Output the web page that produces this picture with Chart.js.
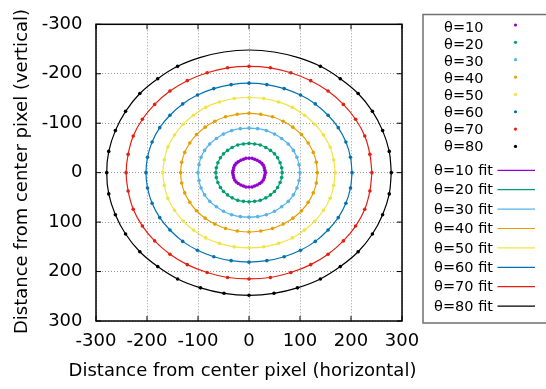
<!DOCTYPE html>
<html>
<head>
<meta charset="utf-8" />
<style>
  body { margin: 0; background: #ffffff; overflow: hidden; }
  #wrap { width: 546px; height: 389px; }
</style>
</head>
<body>
<div id="wrap"><canvas id="chart"></canvas></div>
<script src="https://cdn.jsdelivr.net/npm/chart.js"></script>
<script>
// ring points, one every 10 deg (0 deg = right, then going down)
var x10 = [32,31,30,28,25,21,16,11,6,0,-6,-11,-16,-21,-25,-28,-30,-31,-32,-31,-30,-28,-25,-21,-16,-11,-6,0,6,11,16,21,25,28,30,31];
var y10 = [0,5,10,15,19,22,25,27,29,29,29,27,25,22,19,15,10,5,0,-5,-10,-15,-19,-22,-25,-27,-29,-29,-29,-27,-25,-22,-19,-15,-10,-5];
var x20 = [65,64,61,56,50,42,33,22,11,0,-11,-22,-33,-42,-50,-56,-61,-64,-65,-64,-61,-56,-50,-42,-33,-22,-11,0,11,22,33,42,50,56,61,64];
var y20 = [0,10,20,30,38,45,51,56,58,59,58,56,51,45,38,30,20,10,0,-10,-20,-30,-38,-45,-51,-56,-58,-59,-58,-56,-51,-45,-38,-30,-20,-10];
var x30 = [100,98,94,87,77,64,50,34,17,0,-17,-34,-50,-64,-77,-87,-94,-98,-100,-98,-94,-87,-77,-64,-50,-34,-17,0,17,34,50,64,77,87,94,98];
var y30 = [0,16,31,45,58,69,78,85,89,90,89,85,78,69,58,45,31,16,0,-16,-31,-45,-58,-69,-78,-85,-89,-90,-89,-85,-78,-69,-58,-45,-31,-16];
var x40 = [134,132,126,116,103,86,67,46,23,0,-23,-46,-67,-86,-103,-116,-126,-132,-134,-132,-126,-116,-103,-86,-67,-46,-23,0,23,46,67,86,103,116,126,132];
var y40 = [0,21,41,60,77,92,104,113,118,120,118,113,104,92,77,60,41,21,0,-21,-41,-60,-77,-92,-104,-113,-118,-120,-118,-113,-104,-92,-77,-60,-41,-21];
var x50 = [169,166,159,146,129,109,85,58,29,0,-29,-58,-85,-109,-129,-146,-159,-166,-169,-166,-159,-146,-129,-109,-85,-58,-29,0,29,58,85,109,129,146,159,166];
var y50 = [0,26,52,76,98,116,132,143,150,152,150,143,132,116,98,76,52,26,0,-26,-52,-76,-98,-116,-132,-143,-150,-152,-150,-143,-132,-116,-98,-76,-52,-26];
var x60 = [202,199,190,175,155,130,101,69,35,0,-35,-69,-101,-130,-155,-175,-190,-199,-202,-199,-190,-175,-155,-130,-101,-69,-35,0,35,69,101,130,155,175,190,199];
var y60 = [0,31,62,91,116,139,157,170,178,181,178,170,157,139,116,91,62,31,0,-31,-62,-91,-116,-139,-157,-170,-178,-181,-178,-170,-157,-139,-116,-91,-62,-31];
var x70 = [241,237,227,209,185,155,121,82,42,0,-42,-82,-121,-155,-185,-209,-227,-237,-241,-237,-227,-209,-185,-155,-121,-82,-42,0,42,82,121,155,185,209,227,237];
var y70 = [0,37,74,108,138,165,186,202,212,215,212,202,186,165,138,108,74,37,0,-37,-74,-108,-138,-165,-186,-202,-212,-215,-212,-202,-186,-165,-138,-108,-74,-37];
var x80 = [279,275,262,242,214,179,140,95,49,0,-49,-95,-140,-179,-214,-242,-262,-275,-279,-275,-262,-242,-214,-179,-140,-95,-49,0,49,95,140,179,214,242,262,275];
var y80 = [0,43,85,124,160,190,215,233,244,248,244,233,215,190,160,124,85,43,0,-43,-85,-124,-160,-190,-215,-233,-244,-248,-244,-233,-215,-190,-160,-124,-85,-43];

var thetas = [10, 20, 30, 40, 50, 60, 70, 80];
var colors = ['#9400d3', '#009e73', '#56b4e9', '#e69f00', '#f0e442', '#0072b2', '#e51e10', '#000000'];
var ringX = [x10, x20, x30, x40, x50, x60, x70, x80];
var ringY = [y10, y20, y30, y40, y50, y60, y70, y80];
// the theta=80 ring has no measured dots at the top (250..290 deg)
var missing = [[], [], [], [], [], [], [], [25, 26, 27, 28, 29]];
var tickVals = [-300, -200, -100, 0, 100, 200, 300];
var xTitle = 'Distance from center pixel (horizontal)';
var yTitle = 'Distance from center pixel (vertical)';

var FONT = '"DejaVu Sans", sans-serif';
Chart.defaults.font.family = FONT;
Chart.defaults.color = '#000000';

var datasets = [];
thetas.forEach(function (t, i) {
    var pts = [];
    ringX[i].forEach(function (x, j) {
        if (missing[i].indexOf(j) < 0) pts.push({ x: x, y: ringY[i][j] });
    });
    datasets.push({
        label: '\u03b8=' + t,
        data: pts,
        showLine: false,
        pointRadius: 1.8,
        pointBorderWidth: 0,
        pointBackgroundColor: colors[i],
        borderColor: colors[i]
    });
});
thetas.forEach(function (t, i) {
    var loop = ringX[i].map(function (x, j) { return { x: x, y: ringY[i][j] }; });
    loop.push(loop[0]);
    datasets.push({
        label: '\u03b8=' + t + ' fit',
        data: loop,
        showLine: true,
        pointRadius: 0,
        borderWidth: 1.2,
        borderColor: colors[i],
        tension: 0.4
    });
});

// border, inward ticks, axis titles and the gnuplot style key
var framePlugin = {
    id: 'frame',
    beforeDatasetsDraw: function (chart) {
        var ctx = chart.ctx, a = chart.chartArea;
        var sx = chart.scales.x, sy = chart.scales.y;
        ctx.save();
        ctx.strokeStyle = '#000';
        ctx.lineWidth = 1;
        tickVals.forEach(function (v) {
            var px = sx.getPixelForValue(v), py = sy.getPixelForValue(v);
            ctx.beginPath();
            ctx.moveTo(px, a.bottom); ctx.lineTo(px, a.bottom - 5);
            ctx.moveTo(px, a.top); ctx.lineTo(px, a.top + 5);
            ctx.moveTo(a.left, py); ctx.lineTo(a.left + 5, py);
            ctx.moveTo(a.right, py); ctx.lineTo(a.right - 5, py);
            ctx.stroke();
        });
        ctx.lineWidth = 1.5;
        ctx.strokeRect(a.left, a.top, a.right - a.left, a.bottom - a.top);
        ctx.restore();
    },
    afterDraw: function (chart) {
        var ctx = chart.ctx;
        ctx.save();
        ctx.fillStyle = '#000';
        ctx.font = '18px ' + FONT;
        ctx.textAlign = 'center';
        ctx.textBaseline = 'middle';
        ctx.fillText(xTitle, 242.5, 371);
        ctx.translate(22, 171.5);
        ctx.rotate(-Math.PI / 2);
        ctx.fillText(yTitle, 0, 0);
        ctx.restore();

        // key box, its right side runs past the edge of the picture
        ctx.save();
        ctx.strokeStyle = '#707070';
        ctx.lineWidth = 1.5;
        ctx.beginPath();
        ctx.moveTo(600, 14.5);
        ctx.lineTo(423, 14.5);
        ctx.lineTo(423, 323);
        ctx.lineTo(600, 323);
        ctx.stroke();
        ctx.font = '14.5px ' + FONT;
        ctx.textAlign = 'right';
        ctx.textBaseline = 'middle';
        var n = thetas.length;
        chart.data.datasets.forEach(function (ds, i) {
            ctx.fillStyle = '#000';
            if (i < n) {
                var dy = 25 + i * 17.35;
                ctx.fillText(ds.label, 483.5, 28.6 + i * 17.0);
                ctx.beginPath();
                ctx.arc(515.5, dy, 1.6, 0, Math.PI * 2);
                ctx.fillStyle = ds.pointBackgroundColor;
                ctx.fill();
            } else {
                var k = i - n;
                var ly = 170.3 + k * 19.4;
                ctx.fillText(ds.label, 493, ly + 1);
                ctx.beginPath();
                ctx.moveTo(497.5, ly);
                ctx.lineTo(535, ly);
                ctx.strokeStyle = ds.borderColor;
                ctx.lineWidth = 1.2;
                ctx.stroke();
            }
        });
        ctx.restore();
    }
};

var setTicks = function (scale) {
    scale.ticks = tickVals.map(function (v) { return { value: v }; });
};

new Chart(document.getElementById('chart'), {
    type: 'scatter',
    data: { datasets: datasets },
    plugins: [framePlugin],
    options: {
        responsive: true,
        maintainAspectRatio: false,
        animation: false,
        layout: { padding: { left: 0, right: 144, top: 15, bottom: 0 } },
        plugins: { legend: { display: false }, tooltip: { enabled: false } },
        scales: {
            x: {
                type: 'linear',
                min: -300,
                max: 300,
                afterBuildTicks: setTicks,
                afterFit: function (s) { s.height = 68; },
                grid: { color: '#999999', lineWidth: 1, drawTicks: false },
                border: { display: false, dash: [1, 2] },
                ticks: { padding: 9.2, font: { size: 18 }, color: '#000' }
            },
            y: {
                type: 'linear',
                reverse: true,
                min: -300,
                max: 300,
                afterBuildTicks: setTicks,
                afterFit: function (s) { s.width = 96; },
                grid: { color: '#999999', lineWidth: 1, drawTicks: false },
                border: { display: false, dash: [1, 2] },
                ticks: { padding: 13.5, font: { size: 18 }, color: '#000' }
            }
        }
    }
});
</script>
</body>
</html>
